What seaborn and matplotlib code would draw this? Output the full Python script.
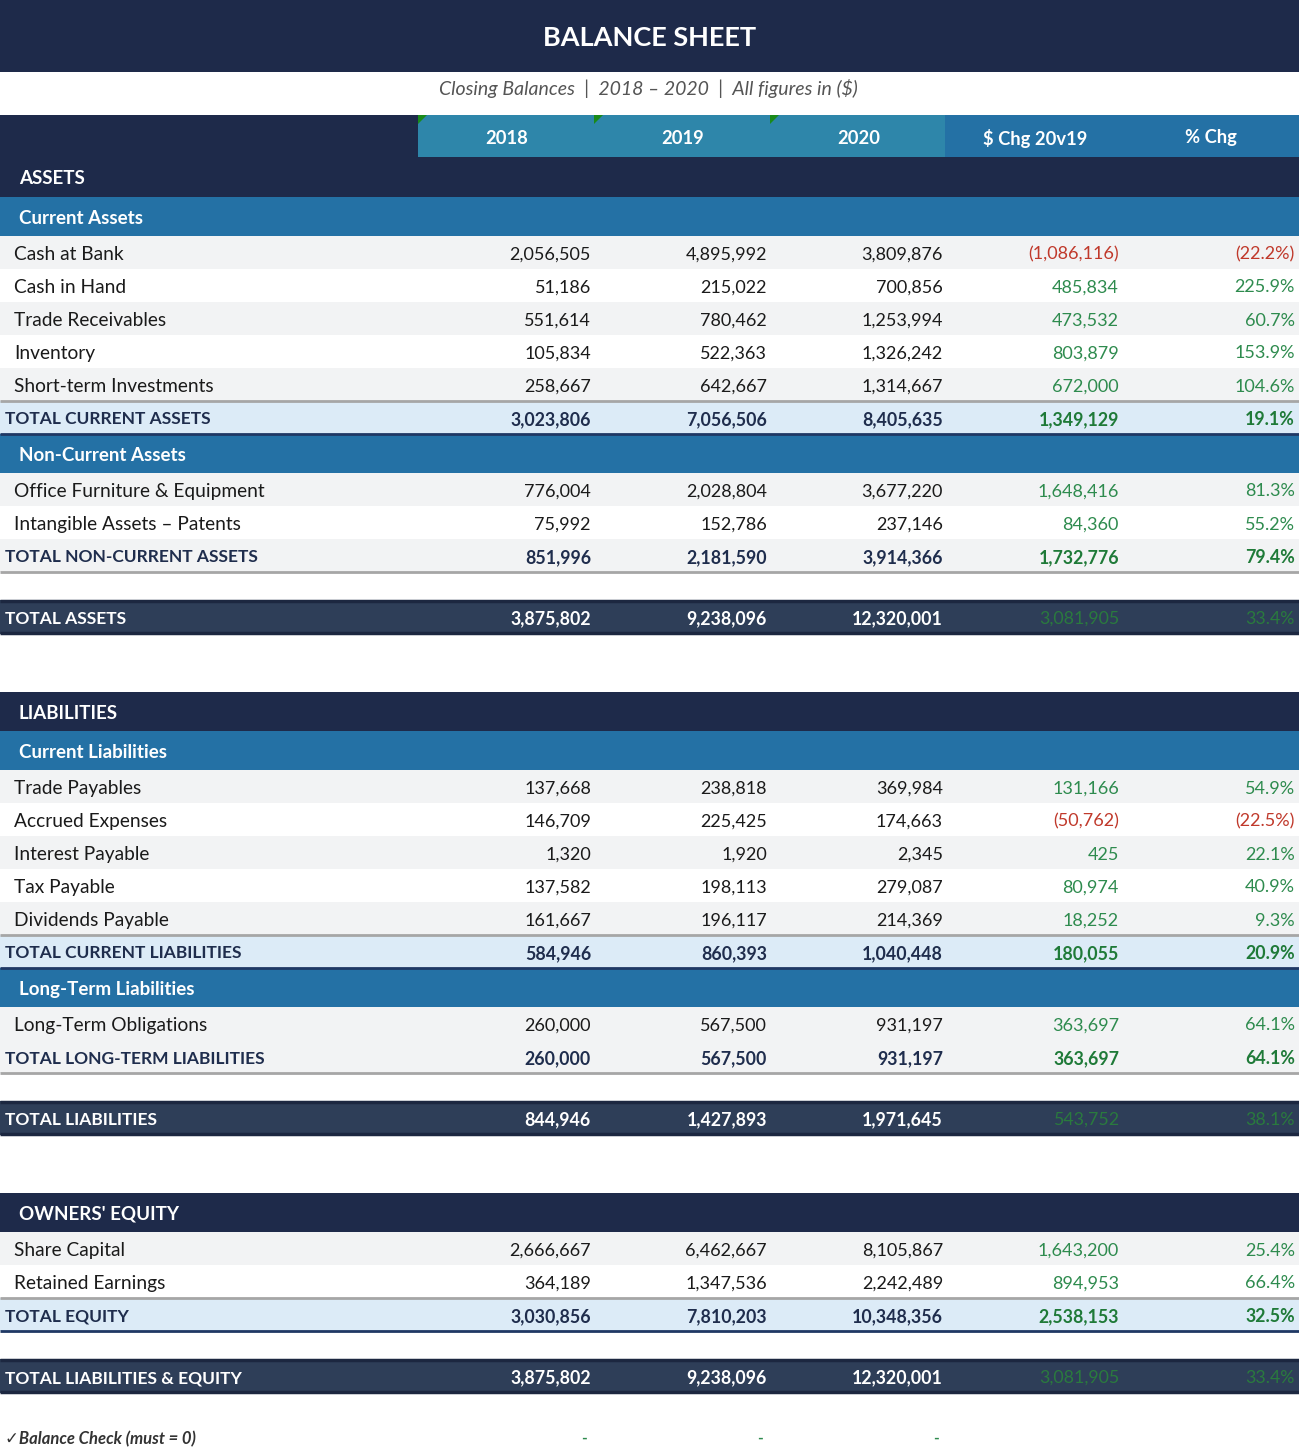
import matplotlib
matplotlib.use("Agg")
import matplotlib.pyplot as plt
from matplotlib.patches import Polygon
import seaborn as sns

# ---- data -------------------------------------------------------------
title = "BALANCE SHEET"
subtitle = "Closing Balances  |  2018 \u2013 2020  |  All figures in ($)"
col_headers = ["2018", "2019", "2020", "$ Chg 20v19", "% Chg"]

ca_labels = ["Cash at Bank", "Cash in Hand", "Trade Receivables", "Inventory",
             "Short-term Investments"]
ca_2018 = [2056505, 51186, 551614, 105834, 258667]
ca_2019 = [4895992, 215022, 780462, 522363, 642667]
ca_2020 = [3809876, 700856, 1253994, 1326242, 1314667]
ca_chg = [-1086116, 485834, 473532, 803879, 672000]
ca_pct = [-22.2, 225.9, 60.7, 153.9, 104.6]
ca_total = [3023806, 7056506, 8405635, 1349129, 19.1]

nca_labels = ["Office Furniture & Equipment", "Intangible Assets \u2013 Patents"]
nca_2018 = [776004, 75992]
nca_2019 = [2028804, 152786]
nca_2020 = [3677220, 237146]
nca_chg = [1648416, 84360]
nca_pct = [81.3, 55.2]
nca_total = [851996, 2181590, 3914366, 1732776, 79.4]

total_assets = [3875802, 9238096, 12320001, 3081905, 33.4]

cl_labels = ["Trade Payables", "Accrued Expenses", "Interest Payable", "Tax Payable",
             "Dividends Payable"]
cl_2018 = [137668, 146709, 1320, 137582, 161667]
cl_2019 = [238818, 225425, 1920, 198113, 196117]
cl_2020 = [369984, 174663, 2345, 279087, 214369]
cl_chg = [131166, -50762, 425, 80974, 18252]
cl_pct = [54.9, -22.5, 22.1, 40.9, 9.3]
cl_total = [584946, 860393, 1040448, 180055, 20.9]

ltl_labels = ["Long-Term Obligations"]
ltl_2018 = [260000]
ltl_2019 = [567500]
ltl_2020 = [931197]
ltl_chg = [363697]
ltl_pct = [64.1]
ltl_total = [260000, 567500, 931197, 363697, 64.1]

total_liabilities = [844946, 1427893, 1971645, 543752, 38.1]

eq_labels = ["Share Capital", "Retained Earnings"]
eq_2018 = [2666667, 364189]
eq_2019 = [6462667, 1347536]
eq_2020 = [8105867, 2242489]
eq_chg = [1643200, 894953]
eq_pct = [25.4, 66.4]
eq_total = [3030856, 7810203, 10348356, 2538153, 32.5]

total_liab_equity = [3875802, 9238096, 12320001, 3081905, 33.4]
balance_check = ["-", "-", "-"]

# ---- style ------------------------------------------------------------
NAVY = "#1e2a4a"
TEAL = "#2e86aa"
BLUE = "#2471a5"
SLATE = "#2e3e58"
LIGHT_BLUE = "#dcebf7"
GRAY_ROW = "#f2f3f4"
TXT = "#1a1a1a"
TXT_TOTAL = "#1f2d4d"
GREEN = "#2e8b4e"
GREEN_BOLD = "#1f7a38"
GREEN_DARK = "#2a7a3e"
RED = "#c0392b"
FONT = ["Lato", "DejaVu Sans"]
DY = 2  # baseline nudge so text sits like the reference

W, H = 1299, 1453
COL_RIGHT = [591, 767, 943, 1119, 1295]
COL_CENTER = [507, 683, 859, 1035, 1211]

sns.set_theme(style="white")
plt.rcParams["font.family"] = FONT

fig = plt.figure(figsize=(W / 100, H / 100), dpi=100)
ax = fig.add_axes([0, 0, 1, 1])
ax.set_xlim(0, W)
ax.set_ylim(H, 0)
ax.axis("off")


def txt(x, y, s, **kw):
    kw.setdefault("va", "center")
    kw.setdefault("zorder", 3)
    ax.text(x, y + DY, s, **kw)


def band(y0, y1, color, x0=0, x1=W):
    ax.fill_between([x0, x1], y0, y1, color=color, lw=0, zorder=1)


def hline(y, color, lw=2.0):
    ax.plot([0, W], [y, y], color=color, lw=lw, solid_capstyle="butt", zorder=2)


def fmt_num(v):
    return f"({abs(v):,.0f})" if v < 0 else f"{v:,.0f}"


def fmt_pct(v):
    return f"({abs(v):.1f}%)" if v < 0 else f"{v:.1f}%"


def values_row(yc, vals, chg, pct, kind="item"):
    if kind == "item":
        c, w, cc = TXT, "normal", (RED if chg < 0 else GREEN)
    elif kind == "total":
        c, w, cc = TXT_TOTAL, "bold", GREEN_BOLD
    else:
        c, w, cc = "white", "bold", GREEN_DARK
    fs = 13 if kind == "item" else 12.8
    for x, v in zip(COL_RIGHT[:3], vals):
        txt(x, yc, fmt_num(v), ha="right", fontsize=fs, color=c, fontweight=w)
    cw = "normal" if kind == "grand" else w
    txt(COL_RIGHT[3], yc, fmt_num(chg), ha="right", fontsize=fs, color=cc, fontweight=cw)
    txt(COL_RIGHT[4], yc, fmt_pct(pct), ha="right", fontsize=fs, color=cc, fontweight=cw)


def section_header(y, text, color, h=39):
    band(y, y + h, color)
    txt(19, y + h / 2, text, ha="left", fontsize=13.5, fontweight="bold", color="white")
    return y + h


def items(y, labels, a, b, c, chg, pct, h=33):
    for i, lab in enumerate(labels):
        if i % 2 == 0:
            band(y, y + h, GRAY_ROW)
        txt(14, y + h / 2, lab, ha="left", fontsize=13.8, color=TXT)
        values_row(y + h / 2, [a[i], b[i], c[i]], chg[i], pct[i])
        y += h
    return y


def total_row(y, label, tot, bg, h=33, bottom="#1f3864", top="#a6a6a6"):
    band(y, y + h, bg)
    if top:
        hline(y, top)
    if bottom:
        hline(y + h, bottom)
    txt(5, y + h / 2, label, ha="left", fontsize=12.5, fontweight="bold", color=TXT_TOTAL)
    values_row(y + h / 2, tot[:3], tot[3], tot[4], kind="total")
    return y + h


def grand_row(y, label, tot, h=34):
    band(y, y + h, SLATE)
    hline(y + 1, "#1c2740", lw=2.5)
    hline(y + h - 1, "#1c2740", lw=2.5)
    txt(5, y + h / 2, label, ha="left", fontsize=12.5, fontweight="bold", color="white")
    values_row(y + h / 2, tot[:3], tot[3], tot[4], kind="grand")
    return y + h


# ---- title block --------------------------------------------------------
band(0, 72, NAVY)
txt(650, 36, title, ha="center", fontsize=19.5, fontweight="bold", color="white")
txt(648, 87, subtitle, ha="center", fontsize=14, style="italic", color="#555555")

# column headers
band(115, 157, NAVY, 0, 418)
band(115, 157, TEAL, 418, 945)
band(115, 157, BLUE, 945, W)
for x, lab in zip(COL_CENTER, col_headers):
    txt(x, 136, lab, ha="center", fontsize=13.2, fontweight="bold", color="white")
for x in (418, 594, 770):
    ax.add_patch(Polygon([[x, 115], [x + 9, 115], [x, 124]], closed=True,
                         color="#1a8a1a", lw=0, zorder=4))

# ---- assets -------------------------------------------------------------
y = 157
y = section_header(y, "ASSETS", NAVY, 40)
y = section_header(y, "Current Assets", BLUE)
y = items(y, ca_labels, ca_2018, ca_2019, ca_2020, ca_chg, ca_pct)
y = total_row(y, "TOTAL CURRENT ASSETS", ca_total, LIGHT_BLUE)
y = section_header(y, "Non-Current Assets", BLUE)
y = items(y, nca_labels, nca_2018, nca_2019, nca_2020, nca_chg, nca_pct)
y = total_row(y, "TOTAL NON-CURRENT ASSETS", nca_total, GRAY_ROW,
              bottom="#a6a6a6", top=None)
y += 28
y = grand_row(y, "TOTAL ASSETS", total_assets)

# ---- liabilities ------------------------------------------------------
y += 58
y = section_header(y, "LIABILITIES", NAVY)
y = section_header(y, "Current Liabilities", BLUE)
y = items(y, cl_labels, cl_2018, cl_2019, cl_2020, cl_chg, cl_pct)
y = total_row(y, "TOTAL CURRENT LIABILITIES", cl_total, LIGHT_BLUE)
y = section_header(y, "Long-Term Liabilities", BLUE)
y = items(y, ltl_labels, ltl_2018, ltl_2019, ltl_2020, ltl_chg, ltl_pct)
y = total_row(y, "TOTAL LONG-TERM LIABILITIES", ltl_total, GRAY_ROW,
              bottom="#a6a6a6", top=None)
y += 28
y = grand_row(y, "TOTAL LIABILITIES", total_liabilities)

# ---- equity -------------------------------------------------------------
y += 58
y = section_header(y, "OWNERS' EQUITY", NAVY)
y = items(y, eq_labels, eq_2018, eq_2019, eq_2020, eq_chg, eq_pct)
y = total_row(y, "TOTAL EQUITY", eq_total, LIGHT_BLUE)
y += 28
y = grand_row(y, "TOTAL LIABILITIES & EQUITY", total_liab_equity)

# balance check
txt(5, 1437, "\u2713Balance Check (must = 0)", ha="left", fontsize=12,
    style="italic", fontweight="bold", color="#333333")
for x, v in zip(COL_RIGHT[:3], balance_check):
    txt(x - 4, 1437, v, ha="right", fontsize=11, color=GREEN, fontweight="bold")

fig.savefig("out.png", dpi=100)
